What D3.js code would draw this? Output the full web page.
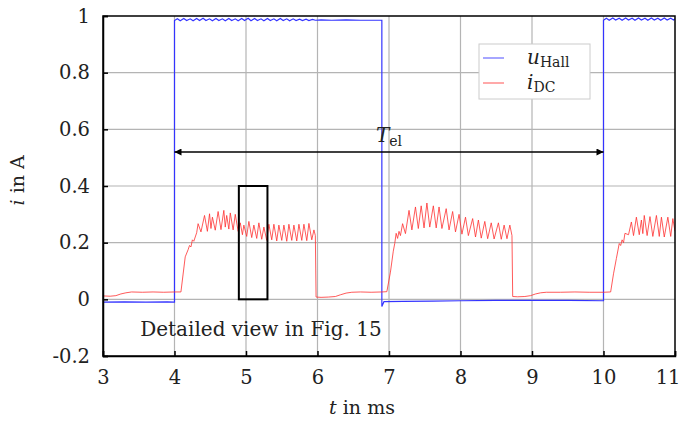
<!DOCTYPE html>
<html>
<head>
<meta charset="utf-8">
<script src="https://cdn.jsdelivr.net/npm/d3@7"></script>
<style>
  body { margin: 0; background: #fff; }
</style>
</head>
<body>
<svg id="chart" width="680" height="421"></svg>
<script>
// axis ticks
const xTicks = [3, 4, 5, 6, 7, 8, 9, 10, 11];
const yTicks = [-0.2, 0, 0.2, 0.4, 0.6, 0.8, 1];

// Hall sensor signal u_Hall (normalised), [t in ms, value]
const uHall = [
  [3.00, -0.010], [3.30, -0.009], [3.60, -0.010], [3.90, -0.009], [4.00, -0.010],
  [4.00, 0.984], [4.04, 0.990], [4.08, 0.983], [4.13, 0.991], [4.17, 0.984], [4.22, 0.990],
  [4.26, 0.983], [4.31, 0.991], [4.35, 0.984], [4.40, 0.992], [4.44, 0.984], [4.49, 0.990],
  [4.53, 0.983], [4.58, 0.991], [4.62, 0.984], [4.67, 0.990], [4.71, 0.983], [4.76, 0.991],
  [4.80, 0.984], [4.85, 0.990], [4.89, 0.983], [4.94, 0.991], [4.98, 0.984], [5.03, 0.992],
  [5.07, 0.983], [5.12, 0.991], [5.16, 0.984], [5.21, 0.990], [5.25, 0.983], [5.30, 0.991],
  [5.34, 0.984], [5.39, 0.990], [5.43, 0.983], [5.48, 0.991], [5.52, 0.984], [5.57, 0.990],
  [5.61, 0.983], [5.66, 0.990], [5.70, 0.984], [5.75, 0.989], [5.79, 0.984], [5.84, 0.989],
  [5.88, 0.984], [5.93, 0.988], [5.97, 0.985], [6.05, 0.986], [6.20, 0.985], [6.40, 0.986],
  [6.60, 0.985], [6.80, 0.985], [6.90, 0.985],
  [6.90, -0.025], [6.93, -0.008], [7.20, -0.007], [7.60, -0.006], [8.00, -0.005],
  [8.50, -0.004], [9.00, -0.004], [9.50, -0.004], [10.00, -0.005],
  [10.00, 0.985], [10.04, 0.992], [10.08, 0.985], [10.13, 0.993], [10.17, 0.986], [10.22, 0.992],
  [10.26, 0.985], [10.31, 0.993], [10.35, 0.986], [10.40, 0.992], [10.44, 0.985], [10.49, 0.993],
  [10.53, 0.986], [10.58, 0.992], [10.62, 0.985], [10.67, 0.993], [10.71, 0.986], [10.76, 0.992],
  [10.80, 0.985], [10.85, 0.993], [10.89, 0.986], [10.94, 0.992], [10.98, 0.986], [11.00, 0.990]
];

// DC link current i_DC in A, [t in ms, value]
const iDC = [
  [3.00, 0.012], [3.10, 0.011], [3.18, 0.013], [3.25, 0.019], [3.32, 0.023], [3.40, 0.026],
  [3.55, 0.025], [3.70, 0.026], [3.85, 0.025], [4.00, 0.026], [4.09, 0.026],
  [4.15, 0.150], [4.19, 0.175], [4.21, 0.190], [4.23, 0.185], [4.25, 0.210], [4.27, 0.205],
  [4.29, 0.220], [4.31, 0.235],
  [4.33, 0.267], [4.37, 0.238], [4.42, 0.296], [4.46, 0.240], [4.49, 0.302], [4.51, 0.250],
  [4.53, 0.290], [4.57, 0.244], [4.61, 0.310], [4.65, 0.246], [4.69, 0.314], [4.71, 0.255],
  [4.73, 0.296], [4.76, 0.248], [4.78, 0.305], [4.82, 0.245], [4.85, 0.300], [4.89, 0.240],
  [4.92, 0.270], [4.95, 0.228], [4.97, 0.262], [5.01, 0.222], [5.04, 0.275], [5.08, 0.218],
  [5.11, 0.262], [5.15, 0.215], [5.18, 0.270], [5.22, 0.212], [5.25, 0.255], [5.29, 0.208],
  [5.32, 0.265], [5.36, 0.210], [5.39, 0.265], [5.43, 0.206], [5.46, 0.262], [5.50, 0.208],
  [5.53, 0.262], [5.57, 0.205], [5.60, 0.265], [5.64, 0.208], [5.67, 0.262], [5.71, 0.206],
  [5.74, 0.265], [5.78, 0.208], [5.81, 0.265], [5.85, 0.207], [5.88, 0.268], [5.92, 0.210],
  [5.95, 0.245], [5.97, 0.225], [5.98, 0.008],
  [6.05, 0.007], [6.15, 0.008], [6.25, 0.010], [6.32, 0.016], [6.40, 0.022], [6.48, 0.025],
  [6.60, 0.026], [6.75, 0.025], [6.90, 0.026], [6.97, 0.027],
  [7.02, 0.096], [7.06, 0.170], [7.08, 0.197], [7.10, 0.233], [7.12, 0.215], [7.14, 0.240],
  [7.16, 0.225],
  [7.19, 0.267], [7.23, 0.232], [7.28, 0.314], [7.32, 0.245], [7.37, 0.326], [7.41, 0.250],
  [7.45, 0.330], [7.49, 0.252], [7.53, 0.340], [7.57, 0.255], [7.62, 0.330], [7.66, 0.252],
  [7.70, 0.326], [7.74, 0.250], [7.80, 0.320], [7.84, 0.245], [7.89, 0.310], [7.93, 0.238],
  [7.98, 0.300], [8.02, 0.230], [8.07, 0.290], [8.11, 0.225], [8.17, 0.285], [8.21, 0.220],
  [8.25, 0.280], [8.29, 0.216], [8.34, 0.275], [8.38, 0.214], [8.43, 0.270], [8.47, 0.213],
  [8.53, 0.270], [8.57, 0.212], [8.61, 0.262], [8.65, 0.214], [8.69, 0.262], [8.72, 0.225],
  [8.73, 0.010],
  [8.80, 0.009], [8.90, 0.010], [8.98, 0.013], [9.05, 0.019], [9.12, 0.023], [9.20, 0.025],
  [9.40, 0.025], [9.60, 0.026], [9.80, 0.025], [10.00, 0.025], [10.10, 0.026],
  [10.14, 0.090], [10.18, 0.144], [10.22, 0.197], [10.24, 0.190], [10.26, 0.210], [10.28, 0.200],
  [10.30, 0.233],
  [10.35, 0.228], [10.39, 0.273], [10.42, 0.225], [10.46, 0.290], [10.50, 0.228], [10.53, 0.280],
  [10.55, 0.232], [10.57, 0.296], [10.61, 0.225], [10.65, 0.292], [10.69, 0.222], [10.74, 0.296],
  [10.78, 0.222], [10.81, 0.290], [10.85, 0.220], [10.90, 0.290], [10.94, 0.222], [10.97, 0.285],
  [11.00, 0.240]
];

// annotations
const periodSpan = [4, 10];          // T_el arrow, t in ms
const periodLevel = 0.52;            // arrow height in A
const detailBox = { t0: 4.9, t1: 5.3, v0: 0, v1: 0.4 };

const FONT = "DejaVu Serif, Liberation Serif, serif";

const svg = d3.select("#chart")
  .attr("font-family", FONT);
const margin = { top: 16, right: 5, bottom: 65, left: 103 };
const width = 680 - margin.left - margin.right;
const height = 421 - margin.top - margin.bottom;

const x = d3.scaleLinear().domain([3, 11]).range([0, width]);
const y = d3.scaleLinear().domain([-0.2, 1]).range([height, 0]);

const defs = svg.append("defs");
defs.append("clipPath").attr("id", "clip")
  .append("rect").attr("width", width).attr("height", height);
defs.append("marker")
  .attr("id", "arrow")
  .attr("viewBox", "0 -5 10 10")
  .attr("refX", 10).attr("refY", 0)
  .attr("markerWidth", 10).attr("markerHeight", 7)
  .attr("markerUnits", "userSpaceOnUse")
  .attr("orient", "auto-start-reverse")
  .append("path").attr("d", "M0,-5L10,0L0,5Z").attr("fill", "#000");

const g = svg.append("g").attr("transform", `translate(${margin.left},${margin.top})`);

// grid
g.append("g").selectAll("line")
  .data(xTicks.slice(1, -1)).join("line")
  .attr("x1", d => x(d)).attr("x2", d => x(d))
  .attr("y1", 0).attr("y2", height)
  .attr("stroke", "#b4b4b4").attr("stroke-width", 1.2);
g.append("g").selectAll("line")
  .data(yTicks.slice(1, -1)).join("line")
  .attr("x1", 0).attr("x2", width)
  .attr("y1", d => y(d)).attr("y2", d => y(d))
  .attr("stroke", "#b4b4b4").attr("stroke-width", 1.2);

// signals
const line = d3.line().x(d => x(d[0])).y(d => y(d[1]));
const plot = g.append("g").attr("clip-path", "url(#clip)");
plot.append("path").datum(uHall)
  .attr("d", line).attr("fill", "none")
  .attr("stroke", "#3434ff").attr("stroke-width", 1.2);
plot.append("path").datum(iDC)
  .attr("d", line).attr("fill", "none")
  .attr("stroke", "#ff3030").attr("stroke-width", 0.8)
  .attr("stroke-linejoin", "round");

// detail box
g.append("rect")
  .attr("x", x(detailBox.t0)).attr("y", y(detailBox.v1))
  .attr("width", x(detailBox.t1) - x(detailBox.t0))
  .attr("height", y(detailBox.v0) - y(detailBox.v1))
  .attr("fill", "none").attr("stroke", "#000").attr("stroke-width", 2);

// period arrow
g.append("line")
  .attr("x1", x(periodSpan[0])).attr("x2", x(periodSpan[1]))
  .attr("y1", y(periodLevel)).attr("y2", y(periodLevel))
  .attr("stroke", "#000").attr("stroke-width", 1.3)
  .attr("marker-start", "url(#arrow)").attr("marker-end", "url(#arrow)");
const tel = g.append("text")
  .attr("x", x((periodSpan[0] + periodSpan[1]) / 2))
  .attr("y", y(periodLevel) - 10)
  .attr("text-anchor", "middle").attr("font-size", 20).attr("fill", "#222");
tel.append("tspan").attr("font-style", "italic").text("T");
tel.append("tspan").attr("font-size", 14).attr("dy", 4).text("el");

g.append("text")
  .attr("x", x(3.52)).attr("y", y(-0.13))
  .attr("font-size", 20).attr("fill", "#222").text("Detailed view in Fig. 15");

// frame + axes
const xAxis = d3.axisBottom(x).tickValues(xTicks).tickSize(-5).tickPadding(14);
const yAxis = d3.axisLeft(y).tickValues(yTicks).tickSize(-5).tickPadding(13)
  .tickFormat(d => String(+d.toFixed(1)));

const styleAxis = s => {
  s.attr("font-family", FONT);
  s.selectAll("text").attr("font-size", 19.5).attr("fill", "#222");
  s.selectAll("line,path").attr("stroke", "#000").attr("stroke-width", 1.5);
};
const gx = g.append("g").attr("transform", `translate(0,${height})`).call(xAxis).call(styleAxis);
gx.selectAll(".tick").filter(d => d === 11).select("text")
  .attr("text-anchor", "end").attr("dx", 5);
g.append("g").call(yAxis).call(styleAxis);
g.append("rect").attr("width", width).attr("height", height)
  .attr("fill", "none").attr("stroke", "#000").attr("stroke-width", 1.5);

// axis titles
const xt = svg.append("text")
  .attr("x", 362).attr("y", 414)
  .attr("text-anchor", "middle").attr("font-size", 19).attr("fill", "#222");
xt.append("tspan").attr("font-style", "italic").text("t");
xt.append("tspan").text(" in ms");

const yt = svg.append("text")
  .attr("transform", `translate(24,${margin.top + y(0.42)}) rotate(-90)`)
  .attr("text-anchor", "middle").attr("font-size", 19).attr("fill", "#222");
yt.append("tspan").attr("font-style", "italic").text("i");
yt.append("tspan").text(" in A");

// legend
const legend = g.append("g").attr("transform", `translate(${479 - margin.left},${44 - margin.top})`);
legend.append("rect").attr("width", 111).attr("height", 55)
  .attr("fill", "#fff").attr("stroke", "#cccccc");
const series = [
  { name: "u", sub: "Hall", color: "#6a6aff" },
  { name: "i", sub: "DC", color: "#ff7070" }
];
series.forEach((s, k) => {
  const ly = 14 + k * 25;
  legend.append("line").attr("x1", 4).attr("x2", 25).attr("y1", ly).attr("y2", ly)
    .attr("stroke", s.color).attr("stroke-width", 1.2);
  const t = legend.append("text").attr("x", 48).attr("y", ly + 6)
    .attr("font-size", 20).attr("fill", "#222");
  t.append("tspan").attr("font-style", "italic").text(s.name);
  t.append("tspan").attr("font-size", 14).attr("dy", 3).text(s.sub);
});
</script>
</body>
</html>
